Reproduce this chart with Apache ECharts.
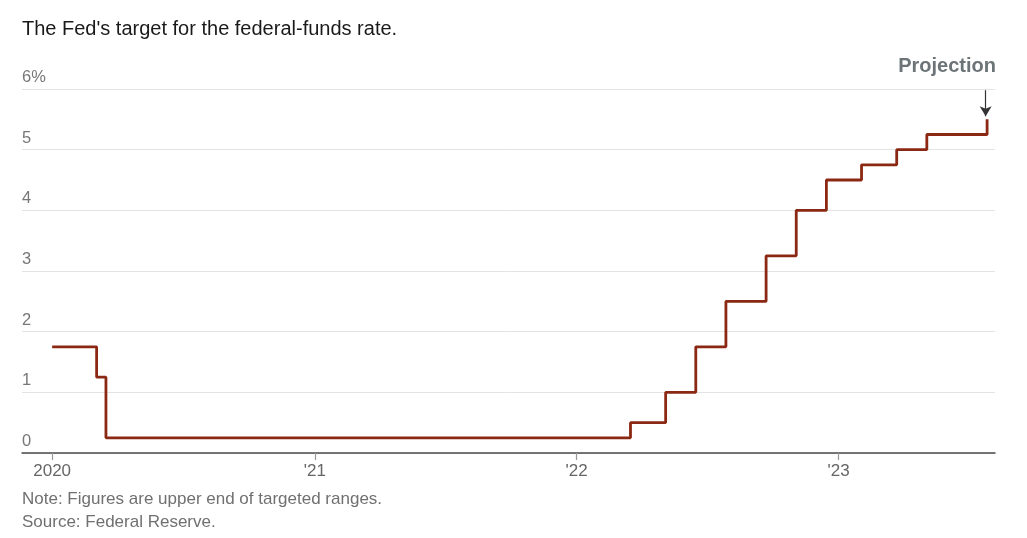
<!DOCTYPE html>
<html>
<head>
<meta charset="utf-8">
<script src="https://cdn.jsdelivr.net/npm/echarts@6/dist/echarts.min.js"></script>
<style>
html,body{margin:0;padding:0;background:#fff;}
#c{width:1027px;height:538px;}
</style>
</head>
<body>
<div id="c"></div>
<script>
// Dates when the target (upper end) changed, and the new rate
const changeDates = ['2020-01-01','2020-03-03','2020-03-16','2022-03-17','2022-05-05','2022-06-16','2022-07-28','2022-09-22','2022-11-03','2022-12-15','2023-02-02','2023-03-23','2023-05-04','2023-07-27'];
const rates = [1.75,1.25,0.25,0.5,1.0,1.75,2.5,3.25,4.0,4.5,4.75,5.0,5.25,5.5];
const yTicks = [0,1,2,3,4,5,6];
const titleText = "The Fed's target for the federal-funds rate.";
const noteText = "Note: Figures are upper end of targeted ranges.";
const sourceText = "Source: Federal Reserve.";
const projectionText = "Projection";

const FONT = 'Liberation Sans, Arial, Helvetica, sans-serif';
const data = changeDates.map((d,i)=>[d, rates[i]]);
const lastDate = changeDates[changeDates.length-1];
const DAY = 24*3600*1000;

const chart = echarts.init(document.getElementById('c'), null, {renderer:'canvas'});
chart.setOption({
  animation:false,
  backgroundColor:'#fff',
  grid:{left:22, right:32, top:89, bottom:85, containLabel:false},
  graphic:[
    {type:'text', left:22, top:19, style:{text:titleText, font:'20px '+FONT, fill:'#1a1a1a'}},
    {type:'text', left:22, top:491, style:{text:noteText, font:'17px '+FONT, fill:'#707070'}},
    {type:'text', left:22, top:514, style:{text:sourceText, font:'17px '+FONT, fill:'#707070'}},
    {type:'text', right:31, top:56, style:{text:projectionText, font:'bold 20px '+FONT, fill:'#6c7478'}}
  ],
  xAxis:{
    type:'time',
    min:'2019-11-20',
    max:'2023-08-07',
    minInterval:365*DAY,
    maxInterval:366*DAY,
    splitLine:{show:false},
    axisLine:{show:true, lineStyle:{color:'#4a4a4a', width:1.5}},
    axisTick:{show:true, length:7, lineStyle:{color:'#999', width:1.2}},
    axisLabel:{
      showMinLabel:false, showMaxLabel:false,
      color:'#666', fontSize:17, fontFamily:FONT, margin:10,
      formatter:function(v){
        const y = new Date(v).getFullYear();
        return y===2020 ? '2020' : "'" + String(y).slice(2);
      }
    }
  },
  yAxis:{
    type:'value', min:0, max:6, interval:1,
    axisLine:{show:false}, axisTick:{show:false},
    splitLine:{show:true, lineStyle:{color:'#e3e3e3', width:1}},
    axisLabel:{
      inside:true, align:'left', verticalAlign:'bottom', margin:0,
      padding:[0,0,3,0],
      color:'#777', fontSize:16.5, fontFamily:FONT,
      formatter:function(v){ return v===6 ? '6%' : String(v); }
    }
  },
  series:[{
    type:'line',
    step:'end',
    data:data,
    symbol:'none',
    lineStyle:{color:'#8b2813', width:2.8},
    z:3,
    markLine:{
      silent:true,
      symbol:['none','arrow'],
      symbolSize:[9,10],
      label:{show:false},
      lineStyle:{color:'#333', width:1.2, type:'solid'},
      data:[[{coord:[new Date(lastDate).getTime()-2*DAY, 5.98]},{coord:[new Date(lastDate).getTime()-2*DAY, 5.55]}]]
    }
  }]
});
</script>
</body>
</html>
